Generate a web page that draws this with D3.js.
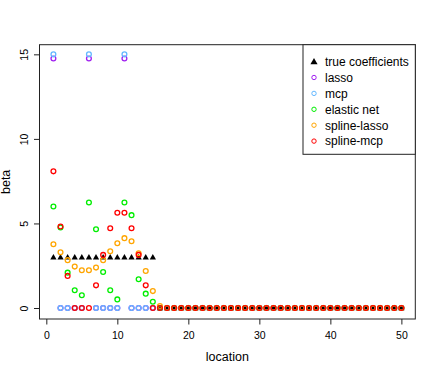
<!DOCTYPE html>
<html><head><meta charset="utf-8">
<script src="https://cdn.jsdelivr.net/npm/d3@7"></script>
<style>body{margin:0;background:#fff}svg{display:block}text{font-family:"Liberation Sans",Arial,sans-serif;fill:#000}</style>
</head><body><svg id="c" width="436" height="374"></svg>
<script>
const locations = d3.range(1, 51);
const trueCoef = locations.map(i => i <= 15 ? 3 : 0);
const lasso = [14.75,0,0,0,0,14.75,0,0,0,0,14.75,0,0,0,0].concat(d3.range(35).map(()=>0));
const mcp   = [15,0,0,0,0,15,0,0,0,0,15,0,0,0,0].concat(d3.range(35).map(()=>0));
const elasticNet  = [6.0,4.76,2.09,1.05,0.75,6.24,4.66,2.13,1.05,0.51,6.24,5.49,1.70,0.85,0.37].concat(d3.range(35).map(()=>0));
const splineLasso = [3.77,3.30,2.83,2.45,2.23,2.23,2.39,2.83,3.36,3.83,4.13,3.95,3.24,2.19,1.0,0.12].concat(d3.range(34).map(()=>0));
const splineMcp   = [8.08,4.82,1.9,0,0,0,1.34,3.14,4.72,5.63,5.63,4.72,3.14,1.34,0].concat(d3.range(35).map(()=>0));
const xTicks = [0,10,20,30,40,50];
const yTicks = [0,5,10,15];
const seriesNames = ["lasso","mcp","elastic net","spline-lasso","spline-mcp"];
const seriesColors = ["#A020F0","#63B8FF","#00EE00","#FFA500","#FF0000"];
const seriesData = [lasso, mcp, elasticNet, splineLasso, splineMcp];

const svg = d3.select("#c");
const x = d3.scaleLinear().domain([-0.96, 51.96]).range([39.5, 415.3]);
const y = d3.scaleLinear().domain([-0.65, 15.57]).range([319, 44.7]);

// box
svg.append("rect").attr("x", x.range()[0]).attr("y", y.range()[1])
  .attr("width", x.range()[1]-x.range()[0]).attr("height", y.range()[0]-y.range()[1])
  .attr("fill","none").attr("stroke","#222").attr("stroke-width",1);

// x axis
const xa = svg.append("g").attr("transform",`translate(0,${y.range()[0]})`)
  .call(d3.axisBottom(x).tickValues(xTicks).tickSize(5.5).tickPadding(4).tickSizeOuter(0));
xa.select(".domain").remove();
xa.selectAll(".tick line").attr("stroke","#222");
xa.selectAll(".tick text").attr("font-size","10.5px").attr("font-family","Liberation Sans, Arial, sans-serif").attr("dy","0").attr("y",19.5);

// y axis
const ya = svg.append("g").attr("transform",`translate(${x.range()[0]},0)`)
  .call(d3.axisLeft(y).tickValues(yTicks).tickSize(5.5).tickSizeOuter(0));
ya.select(".domain").remove();
ya.selectAll(".tick line").attr("stroke","#222");
ya.selectAll(".tick text").attr("font-size","10.5px").attr("font-family","Liberation Sans, Arial, sans-serif")
  .attr("text-anchor","middle").attr("x",0).attr("dy","0")
  .attr("transform","translate(-11.3,0) rotate(-90)");

// labels
svg.append("text").attr("x",(x.range()[0]+x.range()[1])/2).attr("y",361).attr("text-anchor","middle")
  .attr("font-size","12.5px").text("location");
svg.append("text").attr("transform",`translate(10,${(y.range()[0]+y.range()[1])/2}) rotate(-90)`)
  .attr("text-anchor","middle").attr("font-size","12.5px").text("beta");

// true coefficients
const tri = d3.symbol().type(d3.symbolTriangle).size(17);
svg.append("g").selectAll("path").data(locations).join("path")
  .attr("d", tri).attr("fill","#000")
  .attr("transform",(d,i)=>`translate(${x(d)},${y(trueCoef[i])+0.4})`);

// series
seriesData.forEach((arr, si) => {
  svg.append("g").selectAll("circle").data(locations).join("circle")
    .attr("cx", d => x(d)).attr("cy", (d,i) => y(arr[i])).attr("r", 2.4)
    .attr("fill","none").attr("stroke", seriesColors[si]).attr("stroke-width", 1.3);
});

// legend
const lg = svg.append("g");
lg.append("rect").attr("x",303).attr("y",y.range()[1]).attr("width",x.range()[1]-303).attr("height",154.3-y.range()[1])
  .attr("fill","#fff").attr("stroke","#222").attr("stroke-width",1);
const rows = ["true coefficients"].concat(seriesNames);
rows.forEach((name, i) => {
  const yy = 61.6 + i*15.9;
  if (i === 0) {
    lg.append("path").attr("d", d3.symbol().type(d3.symbolTriangle).size(22)).attr("fill","#000")
      .attr("transform",`translate(314,${yy+0.5})`);
  } else {
    lg.append("circle").attr("cx",314).attr("cy",yy).attr("r",2.2).attr("fill","none")
      .attr("stroke",seriesColors[i-1]).attr("stroke-width",1);
  }
  lg.append("text").attr("x",325).attr("y",yy+4.3).attr("font-size","12px").text(name);
});
</script></body></html>
